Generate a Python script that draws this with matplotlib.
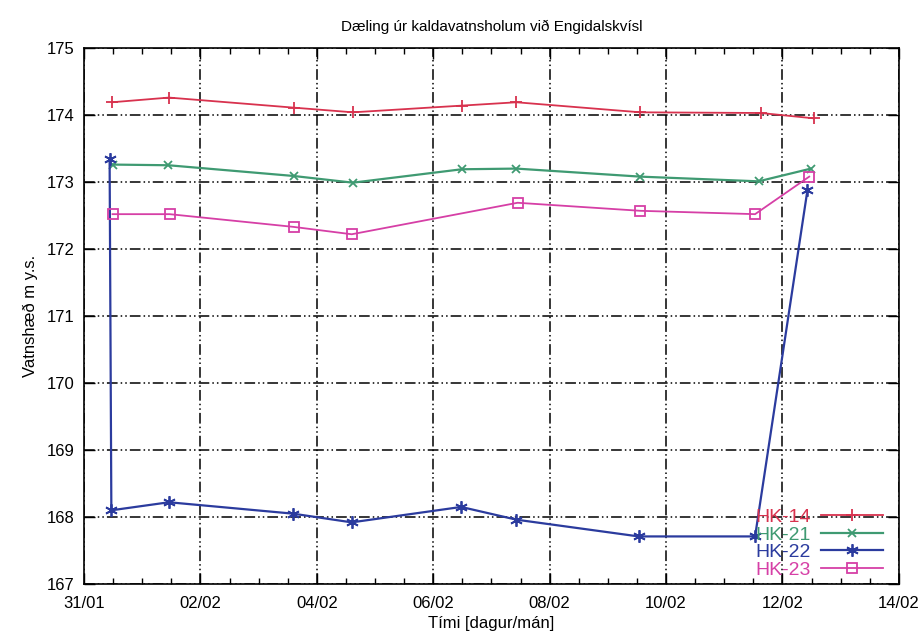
import matplotlib
matplotlib.use("Agg")
import matplotlib.pyplot as plt
import numpy as np

plt.rcParams['font.family'] = ['Liberation Sans', 'DejaVu Sans']

# days after 31/01 (0 = 31/01 00:00)
x_14 = [0.48, 1.46, 3.60, 4.62, 6.49, 7.43, 9.56, 11.63, 12.54]
y_14 = [174.19, 174.26, 174.11, 174.04, 174.14, 174.19, 174.04, 174.03, 173.95]

x_21 = [0.49, 1.45, 3.60, 4.62, 6.49, 7.43, 9.56, 11.59, 12.49]
y_21 = [173.26, 173.25, 173.09, 172.99, 173.19, 173.20, 173.08, 173.01, 173.20]

x_22 = [0.44, 0.47, 1.46, 3.59, 4.60, 6.48, 7.43, 9.53, 11.53, 12.43]
y_22 = [173.35, 168.10, 168.22, 168.05, 167.92, 168.15, 167.96, 167.71, 167.71, 172.88]

x_23 = [0.49, 1.47, 3.60, 4.60, 7.45, 9.56, 11.53, 12.46]
y_23 = [172.52, 172.52, 172.33, 172.22, 172.69, 172.57, 172.52, 173.08]

tick_days = [0, 2, 4, 6, 8, 10, 12, 14]
tick_labels = ["31/01", "02/02", "04/02", "06/02", "08/02", "10/02", "12/02", "14/02"]

fig = plt.figure(figsize=(9.2, 6.4), dpi=100)
ax = fig.add_axes([0.0913, 0.0875, 0.8857, 0.8375])

ax.plot(x_14, y_14, color="#d8324e", lw=1.3, marker="+", ms=9, mew=1.3, label="HK-14")
ax.plot(x_21, y_21, color="#3f9a72", lw=1.6, marker="x", ms=6, mew=1.3, label="HK-21")
ax.plot(x_22, y_22, color="#2b3b9e", lw=1.6, marker=(6, 2, 0), ms=9, mew=1.3, label="HK-22")
ax.plot(x_23, y_23, color="#d63fa6", lw=1.3, marker="s", ms=7, mfc="none", mew=1.3, label="HK-23")

ax.set_xlim(0, 14)
ax.set_ylim(167, 175)
ax.set_xticks(tick_days)
ax.set_xticklabels(tick_labels)
ax.set_xticks(np.arange(0, 14.01, 0.5), minor=True)
ax.set_yticks(range(167, 176))

ax.tick_params(which="both", direction="in", top=True, right=True, labelsize=12)
ax.tick_params(axis="x", pad=9)
ax.tick_params(axis="y", pad=7)
ax.tick_params(which="major", length=8, width=1)
ax.tick_params(which="minor", length=4, width=1)
for s in ax.spines.values():
    s.set_linewidth(1.2)

ax.grid(True, which="major", color="black", lw=1.1, linestyle=(0, (7, 2, 1, 2, 1, 2)))
ax.set_axisbelow(True)

ax.set_title("Dæling úr kaldavatnsholum við Engidalskvísl", fontsize=11, pad=12)
ax.set_xlabel("Tími [dagur/mán]", fontsize=12, labelpad=3)
ax.set_ylabel("Vatnshæð m y.s.", fontsize=12, labelpad=6)

leg = ax.legend(loc="lower right", bbox_to_anchor=(0.995, -0.012), markerfirst=False,
                labelcolor="linecolor", frameon=False, fontsize=14, handlelength=3.2,
                handletextpad=0.5, labelspacing=0.0, borderaxespad=0.2)

fig.savefig("out.png", dpi=100)
